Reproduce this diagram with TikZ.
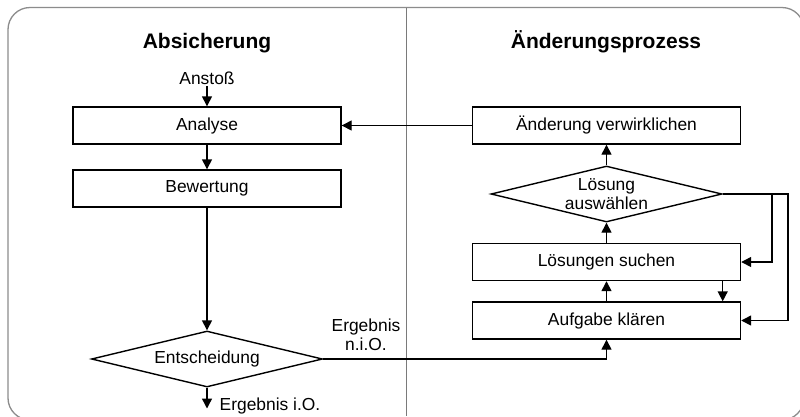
\documentclass[tikz,border=0pt]{standalone}
\usepackage{fontspec}
\setmainfont{Liberation Sans}
\usetikzlibrary{shapes.geometric,arrows.meta}

\definecolor{framegray}{HTML}{8C8C8C}
\definecolor{splitgray}{HTML}{7A7A7A}

\tikzset{
  txt/.style={font=\fontsize{17.4}{19}\selectfont, inner sep=1.5pt},
  title/.style={font=\fontsize{21}{24}\selectfont\bfseries, inner sep=0pt},
  stepbox/.style={draw, line width=1.4pt, minimum width=268pt, minimum height=37pt,
                  inner sep=0pt, font=\fontsize{17.4}{19}\selectfont},
  decision/.style={draw, diamond, line width=1.4pt, minimum width=231pt, minimum height=56pt,
                   inner sep=0pt, aspect=4, align=center,
                   font=\fontsize{17.4}{18.5}\selectfont},
  arr/.style={line width=1.4pt, -{Triangle[length=10pt,width=10pt]}},
}

\begin{document}
\begin{tikzpicture}[x=1pt,y=-1pt]
  \clip (0,0) rectangle (800,416);
  \fill[white] (0,0) rectangle (800,416);

  % outer frame and column divider
  \draw[framegray, line width=1.3pt, rounded corners=22pt] (8,7.5) rectangle (804,420);
  \draw[splitgray, line width=1pt] (406.5,7.5) -- (406.5,416);

  % column titles
  \node[title, anchor=base] (tleft)  at (207,48.3) {Absicherung};
  \node[title, anchor=base] (tright) at (606,48.3) {Änderungsprozess};

  % left column
  \node[txt, anchor=base] (anstoss) at (207,84) {Anstoß};
  \node[stepbox] (analyse)   at (207,125.5) {Analyse};
  \node[stepbox] (bewertung) at (207,188.5) {Bewertung};
  \node[decision] (entsch)   at (207,359) {Entscheidung};
  \coordinate (io) at (207,408.5);
  \node[txt, anchor=base west, inner sep=0pt] (iolabel) at (219.5,410.5) {Ergebnis i.O.};
  \node[txt, anchor=base] (nio1) at (366,331) {Ergebnis};
  \node[txt, anchor=base] (nio2) at (366,350) {n.i.O.};

  % right column
  \node[stepbox] (aenderung) at (606.5,125.5) {Änderung verwirklichen};
  \node[decision] (auswahl)  at (606.5,194) {Lösung\\auswählen};
  \node[stepbox] (loesungen) at (606.5,262) {Lösungen suchen};
  \node[stepbox] (aufgabe)   at (606.5,320.5) {Aufgabe klären};
  \coordinate (loopin)  at (772,0);
  \coordinate (loopout) at (788,0);

  % connectors
  \draw[arr] (anstoss) -- (analyse);
  \draw[arr] (analyse) -- (bewertung);
  \draw[arr] (bewertung) -- (entsch);
  \draw[arr] (entsch.south) -- (io);
  \draw[arr] (entsch.east) -| (aufgabe.south);
  \draw[arr] (aufgabe) -- (loesungen);
  \draw[arr] (loesungen) -- (auswahl.south);
  \draw[arr] (auswahl) -- (aenderung);
  \draw[arr] (aenderung) -- (analyse);
  \draw[arr] (loesungen.south -| auswahl.east) -- (aufgabe.north -| auswahl.east);
  \draw[arr] (auswahl.east) -- (auswahl.east -| loopin) |- (loesungen.east);
  \draw[arr] (auswahl.east) -- (auswahl.east -| loopout) |- (aufgabe.east);
\end{tikzpicture}
\end{document}
